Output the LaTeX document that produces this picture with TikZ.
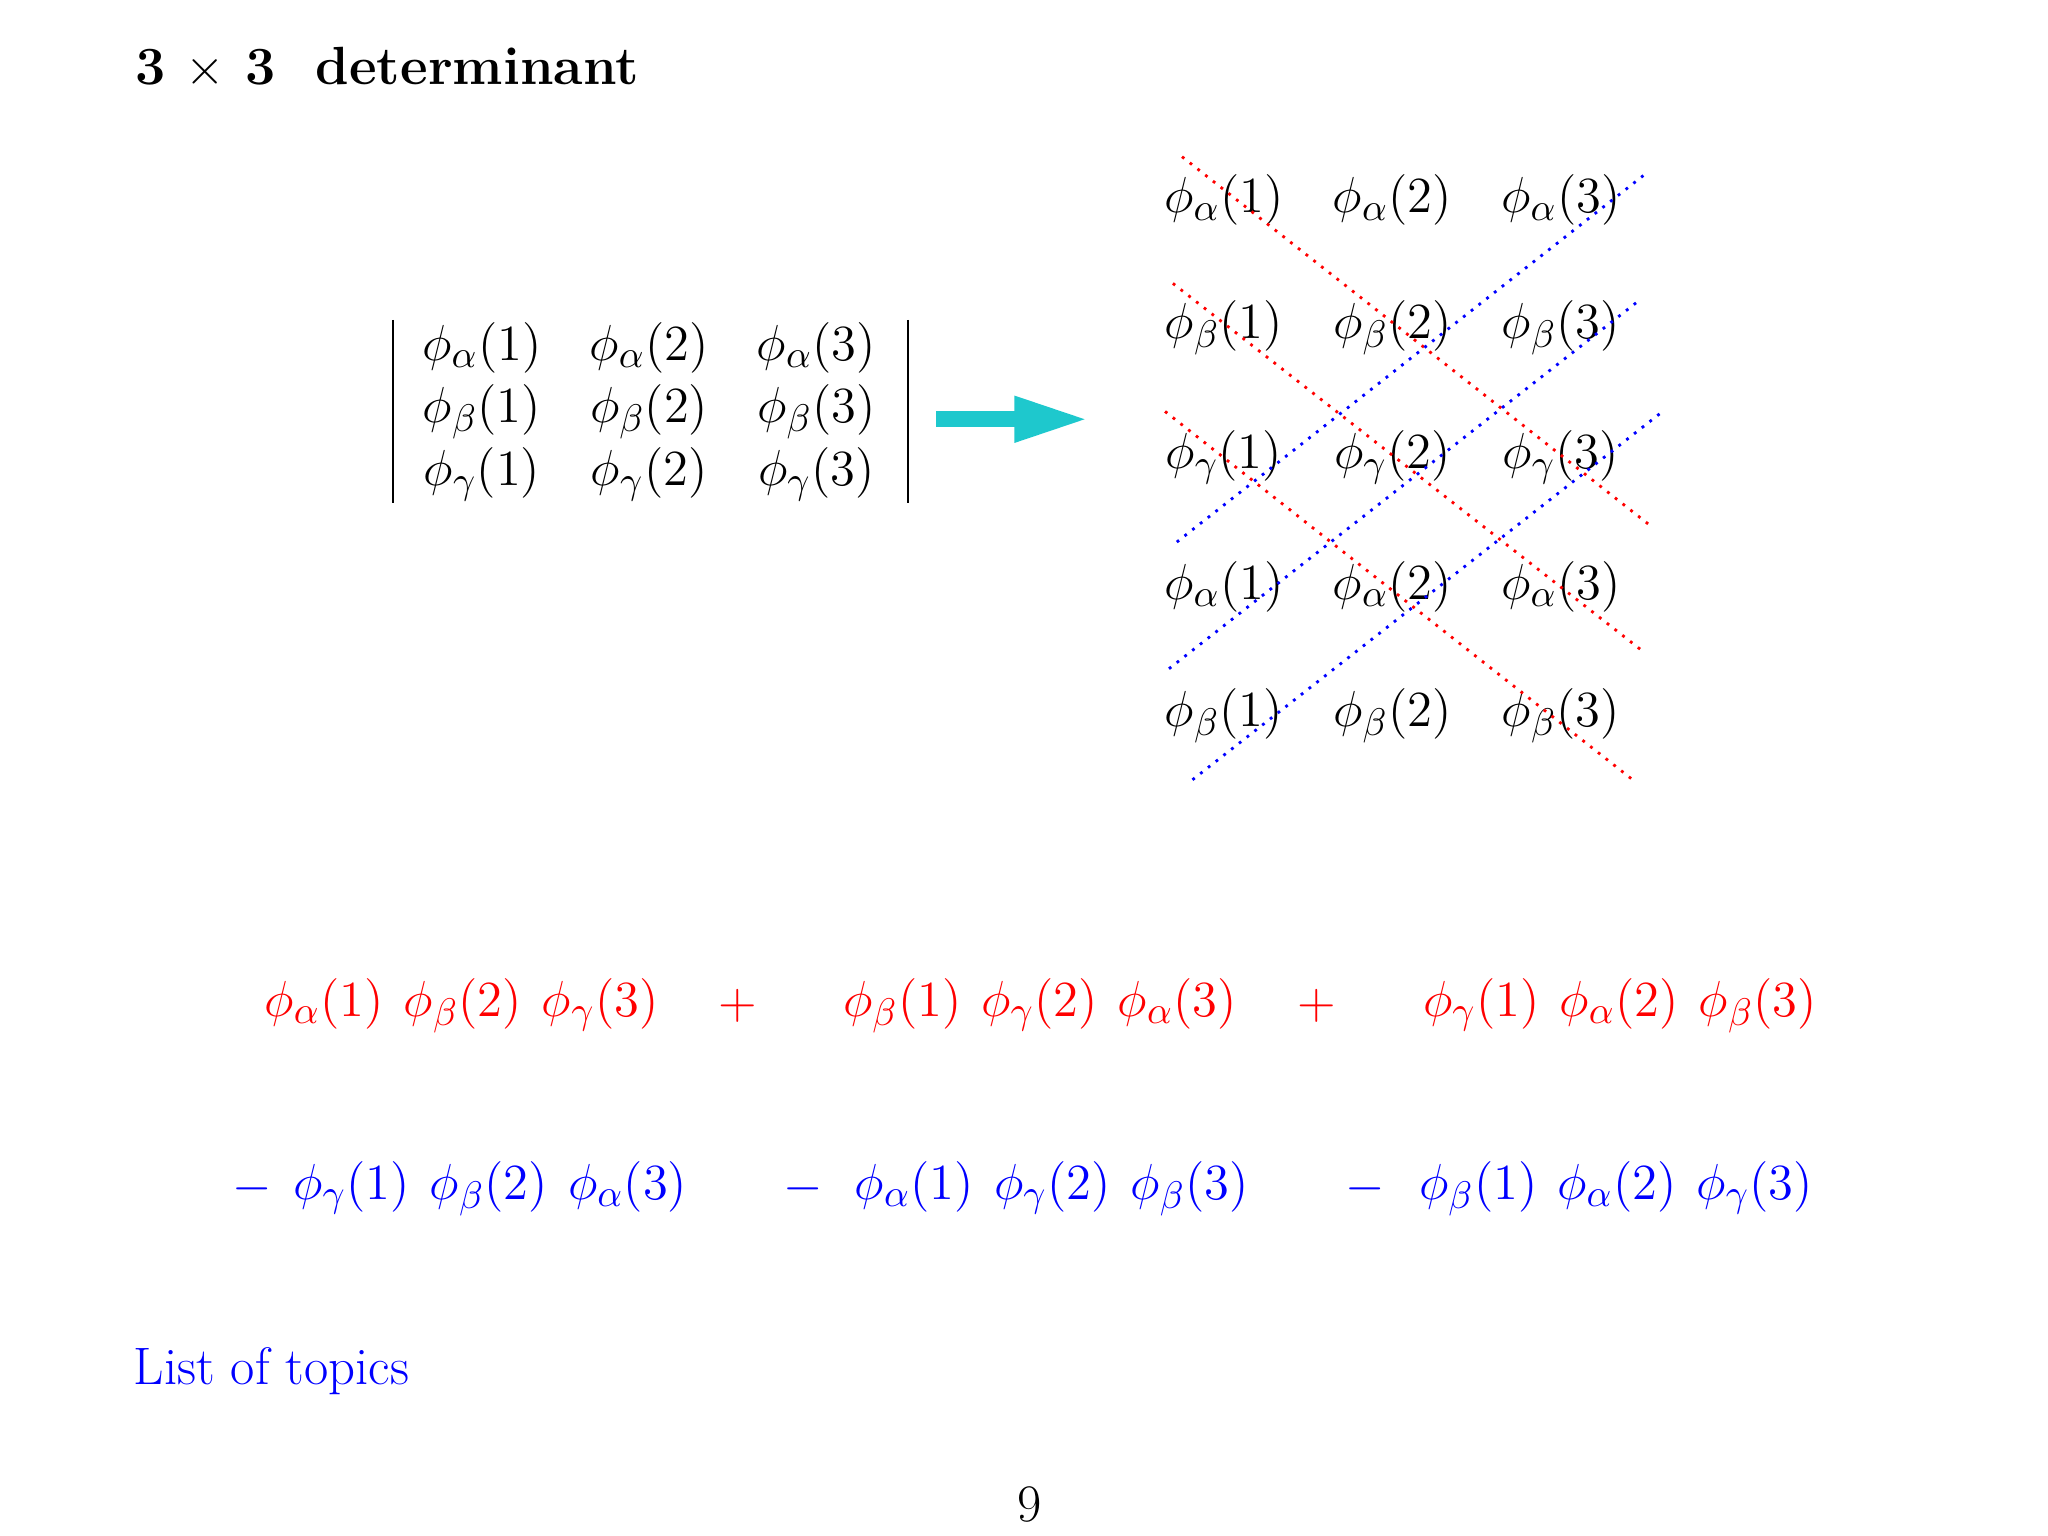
\documentclass[tikz,border=0pt]{standalone}
\usetikzlibrary{arrows.meta}
\definecolor{arr}{RGB}{30,200,205}
\begin{document}
\begin{tikzpicture}[x=0.013061cm,y=-0.013061cm,
  t/.style={inner sep=0pt,font=\fontsize{15}{18}\selectfont},
  rd/.style={red,dotted,line width=0.8pt},
  bd/.style={blue,dotted,line width=0.8pt}]
\useasboundingbox (0,0) rectangle (1568,1176);
\node[t,anchor=west,font=\fontsize{15.3}{18}\selectfont\bfseries] (title) at (103,52) {3 $\times$ 3\ \ determinant};
% determinant
\foreach \r/\y in {\alpha/266,\beta/315,\gamma/363}{
  \foreach \c/\x in {1/369,2/497,3/625}{
    \node[t] at (\x,\y) {$\phi_{\r}(\c)$};}}
\draw[line width=0.6pt] (301,245) -- (301,385);
\draw[line width=0.6pt] (695,245) -- (695,385);
\coordinate (a1) at (717,321); \coordinate (a2) at (834,321);
\draw[arr,line width=1.6mm,-{Triangle[length=7.5mm,width=4.2mm]}] (a1) -- (a2);
% grid
\foreach \r/\y in {\alpha/153,\beta/251,\gamma/350,\alpha/449,\beta/548}{
  \foreach \c/\x in {1/937,2/1066,3/1195}{
    \node[t] at (\x,\y) {$\phi_{\r}(\c)$};}}
\coordinate (r1a) at (905,120); \coordinate (r1b) at (1263,402);
\coordinate (r2a) at (898,217); \coordinate (r2b) at (1257,498);
\coordinate (r3a) at (892,315); \coordinate (r3b) at (1250,597);
\draw[rd] (r1a)--(r1b); \draw[rd] (r2a)--(r2b); \draw[rd] (r3a)--(r3b);
\coordinate (b1a) at (901,415); \coordinate (b1b) at (1260,133);
\coordinate (b2a) at (895,512); \coordinate (b2b) at (1255,230);
\coordinate (b3a) at (913,597); \coordinate (b3b) at (1273,315);
\draw[bd] (b1a)--(b1b); \draw[bd] (b2a)--(b2b); \draw[bd] (b3a)--(b3b);
% sums
\newcommand\gp{\hspace{0.38em}}
\begin{scope}[red]
\node[t,anchor=west] at (202,770) {$\phi_\alpha(1)\gp\phi_\beta(2)\gp\phi_\gamma(3)$};
\node[t] at (565,770) {$+$};
\node[t,anchor=west] at (645,770) {$\phi_\beta(1)\gp\phi_\gamma(2)\gp\phi_\alpha(3)$};
\node[t] at (1008,770) {$+$};
\node[t,anchor=west] at (1089,770) {$\phi_\gamma(1)\gp\phi_\alpha(2)\gp\phi_\beta(3)$};
\end{scope}
\begin{scope}[blue]
\node[t] at (193,910) {$-$};
\node[t,anchor=west] at (224,910) {$\phi_\gamma(1)\gp\phi_\beta(2)\gp\phi_\alpha(3)$};
\node[t] at (615,910) {$-$};
\node[t,anchor=west] at (654,910) {$\phi_\alpha(1)\gp\phi_\gamma(2)\gp\phi_\beta(3)$};
\node[t] at (1045,910) {$-$};
\node[t,anchor=west] at (1086,910) {$\phi_\beta(1)\gp\phi_\alpha(2)\gp\phi_\gamma(3)$};
\end{scope}
\node[t,blue,anchor=west] (lt) at (102,1050) {List of topics};
\node[t] (pg) at (788,1152) {9};
\end{tikzpicture}
\end{document}
